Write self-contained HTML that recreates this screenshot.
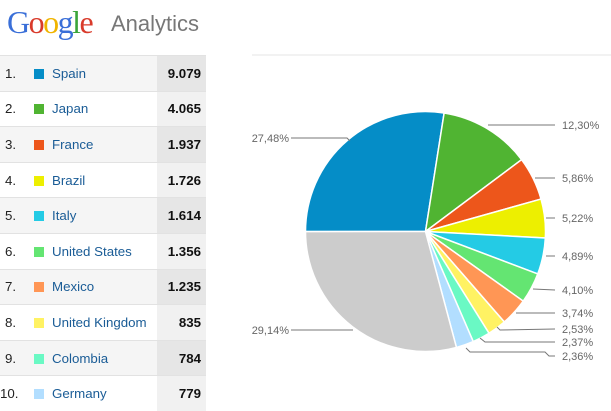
<!DOCTYPE html>
<html><head><meta charset="utf-8"><style>
body{margin:0;width:611px;height:408px;background:#fff;font-family:"Liberation Sans",Arial,sans-serif;overflow:hidden;position:relative}
.logo{position:absolute;left:7px;top:4px;font-size:32px;font-family:"Liberation Serif",serif;letter-spacing:-1.5px}
.an{position:absolute;left:111px;top:11px;font-size:22px;color:#777}
table{position:absolute;left:0;top:55px;border-collapse:collapse;width:206px;table-layout:fixed}
td{height:34.6px;border-top:1px solid #e2e2e2;font-size:13.3px;padding:0;white-space:nowrap;overflow:hidden}
tr:nth-child(odd){background:#f5f5f5}
tr:nth-child(odd) td.v{background:#e6e6e6}
tr:nth-child(even) td.v{background:#f1f1f1}
td.n{width:29px;padding-left:5px;color:#222;box-sizing:border-box}
td.c{color:#1a5c96;width:128px}
td.c i{display:inline-block;width:10px;height:10px;margin:0 8px 0 5px;vertical-align:-1px}
td.v{width:49px;text-align:right;font-weight:bold;padding-right:5px;color:#111;box-sizing:border-box}
</style></head><body>
<div class="logo"><span style="color:#3a6fd8">G</span><span style="color:#d93b2b">o</span><span style="color:#f0b400">o</span><span style="color:#3a6fd8">g</span><span style="color:#3aa53a">l</span><span style="color:#d93b2b">e</span></div>
<div class="an">Analytics</div>
<table>
<colgroup><col style="width:29px"><col style="width:128px"><col style="width:49px"></colgroup>
<tr><td class="n">1.</td><td class="c"><i style="background:#058dc7"></i>Spain</td><td class="v">9.079</td></tr>
<tr><td class="n">2.</td><td class="c"><i style="background:#50b432"></i>Japan</td><td class="v">4.065</td></tr>
<tr><td class="n">3.</td><td class="c"><i style="background:#ed561b"></i>France</td><td class="v">1.937</td></tr>
<tr><td class="n">4.</td><td class="c"><i style="background:#edef00"></i>Brazil</td><td class="v">1.726</td></tr>
<tr><td class="n">5.</td><td class="c"><i style="background:#24cbe5"></i>Italy</td><td class="v">1.614</td></tr>
<tr><td class="n">6.</td><td class="c"><i style="background:#64e572"></i>United States</td><td class="v">1.356</td></tr>
<tr><td class="n">7.</td><td class="c"><i style="background:#ff9655"></i>Mexico</td><td class="v">1.235</td></tr>
<tr><td class="n">8.</td><td class="c"><i style="background:#fff263"></i>United Kingdom</td><td class="v">835</td></tr>
<tr><td class="n">9.</td><td class="c"><i style="background:#6af9c4"></i>Colombia</td><td class="v">784</td></tr>
<tr><td class="n" style="padding-left:0">10.</td><td class="c"><i style="background:#b2deff"></i>Germany</td><td class="v">779</td></tr>
</table>
<svg id="s" width="611" height="408" style="position:absolute;left:0;top:0" font-family="Liberation Sans,Arial,sans-serif" font-size="11" fill="#666">
<line x1="252" y1="55" x2="611" y2="55" stroke="#e4e4e4"/>
<g id="pie"></g>
<g stroke="#777" fill="none" stroke-width="1">
<polyline points="291,138 347,138 350,141"/>
<polyline points="488,125 555,125"/>
<polyline points="535,178 555,178"/>
<polyline points="546,218 555,218"/>
<polyline points="546,256 555,256"/>
<polyline points="533,289 555,290"/>
<polyline points="516,313 555,313"/>
<polyline points="497,327 500,330 555,329"/>
<polyline points="480,338 485,342 555,342"/>
<polyline points="466,348 470,352 545,352 549,356 555,356"/>
<polyline points="291,330 353,330"/>
</g>
<g>
<text x="289" y="142" text-anchor="end">27,48%</text>
<text x="289" y="334" text-anchor="end">29,14%</text>
<text x="562" y="129">12,30%</text>
<text x="562" y="182">5,86%</text>
<text x="562" y="222">5,22%</text>
<text x="562" y="260">4,89%</text>
<text x="562" y="294">4,10%</text>
<text x="562" y="317">3,74%</text>
<text x="562" y="333">2,53%</text>
<text x="562" y="346">2,37%</text>
<text x="562" y="360">2,36%</text>
</g>
</svg>
<script>
var d=[27.48,12.30,5.86,5.22,4.89,4.10,3.74,2.53,2.37,2.36,29.14],
c=["#058dc7","#50b432","#ed561b","#edef00","#24cbe5","#64e572","#ff9655","#fff263","#6af9c4","#b2deff","#cccccc"],
cx=425.5,cy=231.5,r=120,a=270,h="";
function p(t){var q=(t-90)*Math.PI/180;return (cx+r*Math.cos(q)).toFixed(2)+","+(cy+r*Math.sin(q)).toFixed(2)}
for(var i=0;i<d.length;i++){var b=a+d[i]*3.6;
h+='<path d="M'+cx+','+cy+' L'+p(a)+' A'+r+','+r+' 0 '+(d[i]>50?1:0)+' 1 '+p(b)+' Z" fill="'+c[i]+'" stroke="#fff" stroke-width="1.5"/>';a=b;}
document.getElementById("pie").innerHTML=h;
</script>
</body></html>
